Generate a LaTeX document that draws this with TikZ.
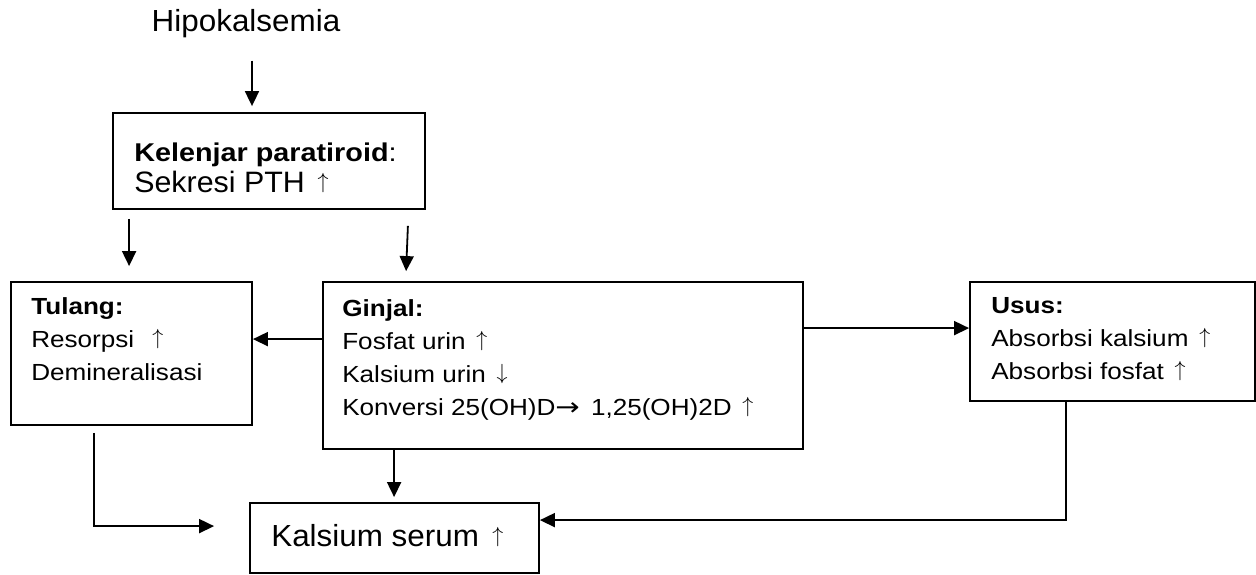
\documentclass[tikz,border=0pt]{standalone}
\usepackage{fontspec}
\setmainfont{Liberation Sans}[FakeStretch=1.12]
\newfontfamily\besarfont{Liberation Sans}[FakeStretch=1.03]
\newfontfamily\panahfont{DejaVu Sans}
\usetikzlibrary{arrows.meta, positioning}
\newcommand{\naik}{\hspace{0.15em}\raisebox{0.12em}{\scalebox{0.88}{$\uparrow$}}}
\newcommand{\turun}{\hspace{0.15em}\raisebox{0.12em}{\scalebox{0.88}{$\downarrow$}}}
\newcommand{\jadi}{\scalebox{1.25}[1.05]{\panahfont→}}

\begin{document}
\begin{tikzpicture}[x=1pt, y=-1pt,
            organ/.style={rectangle, draw=black, line width=1.8pt, inner sep=0pt},
            organtext/.style={anchor=north west, align=left, inner sep=0pt, font=\fontsize{23.3}{33}\selectfont},
            bigtext/.style={inner sep=0pt, font=\besarfont\fontsize{30.5}{31}\selectfont},
            effect/.style={-{Triangle[length=15pt, width=14pt]}, line width=1.8pt}
        ]
\useasboundingbox (0,0) rectangle (1256,575);

% Boxes
            \node[bigtext, anchor=base] (hipo) at (246,32) {Hipokalsemia};
            \node[organ, minimum width=312, minimum height=96] (para) at (269,161) {};
            \node[organ, minimum width=241, minimum height=143] (tulang) at (131.5,353.5) {};
            \node[organ, minimum width=480, minimum height=167] (ginjal) at (563,365.5) {};
            \node[organ, minimum width=285, minimum height=119] (usus) at (1112.5,341.5) {};
            \node[organ, minimum width=289, minimum height=70] (serum) at (394.5,538) {};

% Texts
            \node[organtext, font=\fontsize{25.7}{31}\selectfont] (paratext) at ([xshift=22pt, yshift=-30.6pt]para.north west)
                {\textbf{Kelenjar paratiroid}:\\{\besarfont\fontsize{29.5}{31}\selectfont Sekresi PTH \naik}};
            \node[organtext] (tulangtext) at ([xshift=21pt, yshift=-16.4pt]tulang.north west)
                {\textbf{Tulang:}\\Resorpsi \ \naik\\Demineralisasi};
            \node[organtext] (ginjaltext) at ([xshift=20pt, yshift=-18.3pt]ginjal.north west)
                {\textbf{Ginjal:}\\Fosfat urin \naik\\Kalsium urin \turun\\Konversi 25(OH)D\jadi{} \,1,25(OH)2D \naik};
            \node[organtext] (usustext) at ([xshift=22pt, yshift=-16.4pt]usus.north west)
                {\textbf{Usus:}\\Absorbsi kalsium \naik\\Absorbsi fosfat \naik};
            \node[bigtext, anchor=base west] (serumtext) at ([xshift=22pt, yshift=-44pt]serum.north west) {Kalsium serum \naik};

% Arrows
            \draw[effect] ([xshift=6pt, yshift=-22pt]hipo.south) -- ([xshift=-17pt, yshift=6pt]para.north);
            \draw[effect] ([xshift=17pt, yshift=-9pt]para.south west) -- ([xshift=119pt, yshift=15pt]tulang.north west);
            \draw[effect] ([xshift=-18pt, yshift=-16pt]para.south east) -- ([xshift=84pt, yshift=10pt]ginjal.north west);
            \draw[effect] ([yshift=-58pt]ginjal.north west) -- ([yshift=-58pt]tulang.north east);
            \draw[effect] ([yshift=-47pt]ginjal.north east) -- ([yshift=-47pt]usus.north west);
            \draw[effect] ([xshift=72pt]ginjal.south west) -- ([xshift=145pt, yshift=5pt]serum.north west);
            \draw[effect] ([xshift=84pt, yshift=-7pt]tulang.south west) |- ([xshift=-35pt, yshift=-24pt]serum.north west);
            \draw[effect] ([xshift=97pt]usus.south west) |- ([yshift=-18pt]serum.north east);

        \end{tikzpicture}
\end{document}
